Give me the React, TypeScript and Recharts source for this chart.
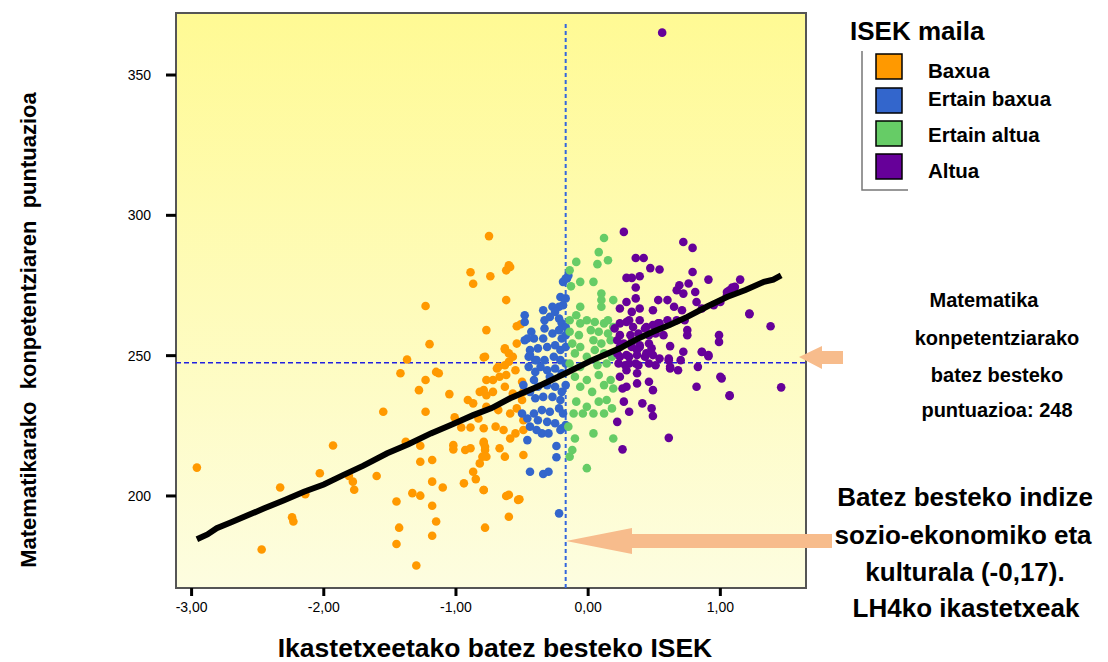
import React from 'react';
import { ScatterChart, Scatter, XAxis, YAxis, CartesianGrid, ReferenceLine, ReferenceArea } from 'recharts';

const xTicks = [-3, -2, -1, 0, 1];
const yTicks = [200, 250, 300, 350];
const meanIndex = -0.17;
const meanScore = 247.5;

const baxua: [number, number][] = [
  [-2.96,210.1],[-2.47,180.9],[-2.33,203.0],[-2.24,192.4],[-2.23,190.9],[-2.14,200.6],[-2.03,208.1],[-1.93,218.0],[-1.81,207.1],[-1.78,205.1],[-1.77,202.2],[-1.60,207.1],[-1.55,230.0],
  [-1.23,267.7],[-1.20,254.1],[-1.37,248.6],[-1.42,243.7],[-1.23,241.3],[-1.15,244.2],[-1.13,243.7],[-1.28,237.7],[-1.23,230.0],[-1.05,236.3],
  [-0.91,234.2],[-0.87,233.0],[-0.82,237.1],[-0.77,259.1],[-0.78,249.6],[-0.77,241.3],[-0.77,235.9],
  [-1.01,228.0],[-0.96,224.4],[-0.89,224.4],[-0.83,227.6],
  [-1.02,218.1],[-1.02,216.6],[-0.93,216.4],[-0.89,217.0],[-0.79,218.8],[-0.78,216.4],[-0.77,214.0],
  [-1.38,219.3],[-1.27,217.9],[-1.27,212.2],[-1.18,212.8],[-0.82,211.6],[-0.87,208.6],[-0.85,206.0],
  [-1.18,205.1],[-1.10,203.0],[-0.94,204.5],[-1.33,201.0],[-1.27,200.1],[-1.45,198.0],[-1.18,196.5],[-0.79,202.1],
  [-1.43,188.7],[-1.15,190.9],[-1.45,182.9],[-1.18,185.8],[-1.30,175.2],[-0.78,188.7],
  [-0.89,279.7],[-0.74,278.3],[-0.62,280.4],[-0.60,282.2],[-0.87,275.6],[-0.62,269.8],[-0.63,252.2],[-0.79,249.4],[-0.68,246.0],[-0.60,247.8],
  [-0.75,292.6],[-0.59,281.6],[-0.54,260.5],[-0.51,261.2],
  [-0.63,252.6],[-0.60,250.8],[-0.54,254.3],[-0.57,249.6],
  [-0.63,246.6],[-0.69,245.4],[-0.72,241.3],[-0.67,242.5],[-0.62,243.1],[-0.55,244.8],[-0.50,240.7],[-0.49,237.1],
  [-0.79,237.7],[-0.72,237.1],[-0.63,238.9],[-0.57,236.5],[-0.50,234.2],
  [-0.77,231.8],[-0.68,230.6],[-0.59,229.4],[-0.54,231.2],[-0.49,227.0],
  [-0.79,224.1],[-0.70,224.7],[-0.64,223.5],[-0.59,220.5],[-0.55,222.3],[-0.49,223.5],
  [-0.78,217.5],[-0.80,214.0],[-0.67,217.0],[-0.49,214.6],[-0.63,214.0],[-0.79,202.1],
  [-0.60,200.4],[-0.52,198.8],[-0.60,192.6],[-0.62,200.0],[-0.53,198.6],[-0.79,219.3],
];

const ertainBaxua: [number, number][] = [
  [-0.16,277.5],[-0.19,276.3],[-0.17,277.5],[-0.15,278.6],
  [-0.21,270.9],[-0.17,270.4],[-0.19,268.0],[-0.22,267.4],
  [-0.48,264.4],[-0.48,262.0],[-0.34,266.2],[-0.27,267.4],[-0.25,265.6],
  [-0.33,262.6],[-0.29,263.8],[-0.22,263.2],[-0.20,261.5],[-0.17,260.2],
  [-0.43,258.5],[-0.41,256.1],[-0.33,259.7],[-0.34,256.1],[-0.27,257.9],[-0.22,259.1],[-0.20,256.1],[-0.17,257.3],
  [-0.48,255.5],[-0.44,252.0],[-0.38,252.6],[-0.31,253.1],[-0.25,253.7],[-0.21,252.0],[-0.17,253.1],
  [-0.45,249.6],[-0.40,248.4],[-0.33,248.4],[-0.26,249.6],[-0.21,248.4],[-0.17,247.2],
  [-0.46,256.1],
  [-0.44,250.2],[-0.39,248.4],[-0.45,246.0],[-0.40,244.2],[-0.36,246.0],[-0.31,244.8],[-0.25,245.4],[-0.20,243.7],[-0.29,242.5],[-0.41,241.3],
  [-0.49,239.5],[-0.44,237.1],[-0.38,238.9],[-0.31,239.5],[-0.25,238.9],[-0.20,237.1],[-0.17,239.5],[-0.40,234.8],[-0.34,235.3],[-0.27,235.3],[-0.21,234.2],
  [-0.50,229.4],[-0.46,227.6],[-0.41,229.4],[-0.35,230.6],[-0.29,230.0],[-0.22,231.2],[-0.19,229.4],[-0.38,227.0],[-0.31,226.4],[-0.25,225.9],[-0.20,224.1],[-0.44,224.7],[-0.35,222.3],[-0.30,222.3],[-0.39,223.5],
  [-0.46,219.9],[-0.24,217.8],[-0.24,213.8],[-0.44,208.6],[-0.34,207.8],[-0.30,208.6],[-0.22,193.8],
  [-0.21,223.5],[-0.17,225.3],
];

const ertainAltua: [number, number][] = [
  [0.12,291.9],[0.08,286.9],[0.15,284.0],[0.07,282.6],[-0.09,283.4],
  [-0.14,280.4],[-0.06,276.3],[0.04,276.3],[-0.13,274.7],
  [0.10,272.1],[0.19,269.8],[0.10,269.8],[0.10,267.4],[-0.06,267.4],[-0.09,264.4],
  [-0.14,262.6],[-0.06,261.5],[-0.01,262.6],[0.05,262.0],[0.12,261.5],[0.15,262.6],[0.19,260.2],
  [-0.14,258.5],[-0.07,257.3],[0.02,259.1],[0.08,258.5],[0.15,257.9],[-0.12,254.3],[-0.06,253.1],[0.04,255.5],[0.10,254.3],[0.17,255.5],
  [-0.10,250.8],[-0.01,249.6],[0.05,252.0],[0.12,250.8],[0.18,249.6],[-0.14,247.2],[-0.06,246.0],[0.07,246.6],[0.14,247.2],
  [-0.10,242.5],[-0.01,241.3],[0.08,243.1],[0.17,241.3],[-0.06,238.9],[0.03,237.1],[0.12,239.5],[0.19,238.3],
  [-0.09,233.6],[-0.01,231.8],[0.08,233.6],[0.14,234.2],[0.18,231.2],[-0.11,229.4],[-0.04,229.4],[0.04,229.4],[0.12,229.4],
  [-0.15,224.7],[-0.10,220.5],[0.04,222.3],[0.19,220.5],[-0.12,216.4],[-0.14,214.0],[-0.01,209.9],
];

const altua: [number, number][] = [
  [0.56,365.1],[0.27,294.1],[0.72,290.5],[0.79,288.4],[0.36,284.8],[0.42,284.8],[0.47,281.2],[0.54,280.7],[0.79,279.8],
  [0.29,277.7],[0.33,277.7],[0.39,278.3],[0.91,277.1],[1.15,277.1],[0.36,274.3],
  [0.69,275.1],[0.76,275.7],[0.72,272.1],[0.81,272.7],[0.67,273.3],[1.09,274.3],[1.05,272.7],[1.07,273.3],[1.11,274.5],
  [0.29,269.1],[0.36,270.4],[0.24,266.8],[0.33,265.6],[0.39,266.8],
  [0.53,269.8],[0.60,269.8],[0.49,266.2],[0.65,267.4],[0.71,266.2],[0.82,269.1],[0.86,266.8],
  [0.95,268.0],[1.00,269.1],[1.05,271.5],[1.22,264.8],[1.38,260.5],
  [0.24,261.5],[0.31,262.6],[0.39,262.6],[0.44,260.2],[0.53,261.5],[0.60,262.6],[0.67,262.6],[0.73,262.6],[0.75,259.1],
  [0.24,257.3],[0.32,257.3],[0.38,257.9],[0.46,257.3],[0.51,257.9],[0.57,257.3],[0.75,257.3],
  [0.99,257.3],[0.99,254.9],
  [0.24,253.1],[0.33,253.1],[0.39,253.7],[0.48,252.6],[0.62,253.4],[0.72,251.4],
  [0.24,249.6],[0.31,249.6],[0.37,250.2],[0.43,249.6],[0.49,250.2],[0.61,249.0],[0.70,248.4],[0.86,251.4],[0.91,249.8],
  [0.28,246.6],[0.36,247.2],[0.51,246.6],[0.62,246.0],[0.68,244.8],[0.83,246.0],
  [0.24,242.5],[0.37,243.7],[0.46,240.7],[1.00,242.5],
  [0.29,238.9],[0.37,240.1],[0.49,237.7],[0.82,238.9],[1.07,235.9],[1.46,238.7],
  [0.20,259.7],[0.29,262.0],[0.34,260.2],[0.43,259.7],[0.49,260.9],[0.54,261.5],
  [0.22,255.5],[0.27,254.3],[0.33,254.9],[0.39,253.1],[0.46,254.3],[0.22,250.8],[0.29,250.2],[0.37,252.0],[0.44,250.8],
  [0.23,247.2],[0.31,247.2],[0.38,246.6],[0.46,247.2],[0.54,249.0],
  [0.29,244.8],[0.61,248.4],[0.62,245.4],[0.86,251.3],[0.91,250.2],[1.01,241.9],[1.07,235.6],[1.22,265.0],
  [0.26,238.3],[0.27,233.6],[0.41,233.0],[0.48,231.2],[0.31,230.0],[0.49,228.5],[0.22,226.4],[0.26,216.6],[0.61,220.7],
];

const fitX = [-2.96,-2.88,-2.81,-2.70,-2.58,-2.45,-2.30,-2.15,-2.00,-1.85,-1.70,-1.52,-1.36,-1.19,-1.03,-0.87,-0.73,-0.59,-0.38,-0.17,0.03,0.24,0.37,0.49,0.62,0.75,0.90,1.05,1.19,1.33,1.40,1.46];
const fitY = [184.6,186.3,188.5,190.6,193.0,195.6,198.5,201.5,204.1,207.5,210.8,215.2,218.4,222.3,225.5,228.8,231.3,234.8,239.0,243.7,248.4,252.6,255.9,258.5,261.0,263.8,267.5,270.9,273.4,276.3,277.1,278.6];

const legendNames = ['Baxua', 'Ertain baxua', 'Ertain altua', 'Altua'];
const legendColors = ['#ff9900', '#3366cc', '#66cc66', '#660099'];

const toPts = (a: [number, number][]) => a.map(([x, y]) => ({ x, y }));
const fitData = fitX.map((x, i) => ({ x, y: fitY[i] }));
const groups = [baxua, ertainBaxua, ertainAltua, altua];

const FONT = '"Liberation Sans", Arial, sans-serif';

const dot = (color: string) => (props: any) => (
  <circle cx={props.cx} cy={props.cy} r={4.3} fill={color} />
);

const fmt = (v: number) => v.toFixed(2).replace('.', ',');

export default function App() {
  const swatchY = [54, 88, 121, 154];
  const labelY = [73, 101, 137, 173];
  return (
    <div style={{ position: 'absolute', left: 0, top: 0, width: 1108, height: 662, background: '#fff', fontFamily: FONT }}>
      <ScatterChart width={1108} height={662} margin={{ top: 13, right: 302, bottom: 44, left: 116 }}>
        <defs>
          <linearGradient id="bg" x1="0" y1="0" x2="0" y2="1">
            <stop offset="0%" stopColor="#fffa94" />
            <stop offset="100%" stopColor="#fdfde0" />
          </linearGradient>
        </defs>
        <CartesianGrid horizontal={false} vertical={false} fill="url(#bg)" />
        <XAxis
          type="number"
          dataKey="x"
          domain={[-3.118, 1.648]}
          ticks={xTicks}
          tickFormatter={fmt}
          allowDataOverflow
          height={30}
          axisLine={false}
          tickLine={{ stroke: '#000', strokeWidth: 3 }}
          tickSize={8}
          tickMargin={6}
          tick={{ fill: '#000', fontSize: 14, fontFamily: FONT }}
        />
        <YAxis
          type="number"
          dataKey="y"
          domain={[167.2, 372.1]}
          ticks={yTicks}
          allowDataOverflow
          width={60}
          axisLine={false}
          tickLine={{ stroke: '#000', strokeWidth: 3 }}
          tickSize={10}
          tickMargin={15}
          tick={{ fill: '#000', fontSize: 14, fontFamily: FONT }}
        />
        <ReferenceArea x1={-3.118} x2={1.648} y1={167.2} y2={372.1} fill="none" stroke="#555" strokeWidth={2} ifOverflow="visible" />
        <ReferenceLine y={meanScore} stroke="#2020e0" strokeWidth={1.5} strokeDasharray="5 3" />
        <ReferenceLine segment={[{ x: meanIndex, y: 167.2 }, { x: meanIndex, y: 368.6 }]} stroke="#3366dd" strokeWidth={2} strokeDasharray="4 3" />
        {groups.map((g, i) => (
          <Scatter key={i} data={toPts(g)} fill={legendColors[i]} shape={dot(legendColors[i])} isAnimationActive={false} />
        ))}
        <Scatter data={fitData} line={{ stroke: '#000', strokeWidth: 6 }} lineType="joint" shape={() => <g />} isAnimationActive={false} />
      </ScatterChart>
      <svg width={1108} height={662} style={{ position: 'absolute', left: 0, top: 0, pointerEvents: 'none' }} fontFamily={FONT}>
        <text x={30} y={330} transform="rotate(-90 30 330)" textAnchor="middle" dominantBaseline="middle" fontSize={22} fontWeight="bold" style={{ whiteSpace: 'pre' }}>
          {'Matematikarako  konpetentziaren  puntuazioa'}
        </text>
        <text x={495} y={657} textAnchor="middle" fontSize={26.5} fontWeight="bold">Ikastetxeetako batez besteko ISEK</text>
        <text x={850} y={40} fontSize={26} fontWeight="bold">ISEK maila</text>
        <polyline points="862,51 862,190 908,190" fill="none" stroke="#777" strokeWidth={1.5} />
        {legendNames.map((n, i) => (
          <g key={n}>
            <rect x={876} y={swatchY[i]} width={26} height={25} fill={legendColors[i]} stroke="#000" strokeWidth={1.5} />
            <text x={928} y={labelY[i]} dominantBaseline="middle" fontSize={20.5} fontWeight="bold">{n}</text>
          </g>
        ))}
        <g fontSize={20} fontWeight="bold" textAnchor="middle">
          <text x={984} y={307}>Matematika</text>
          <text x={997} y={345}>konpetentziarako</text>
          <text x={997} y={382}>batez besteko</text>
          <text x={997} y={417}>puntuazioa: 248</text>
        </g>
        <g fontSize={26} fontWeight="bold" textAnchor="middle">
          <text x={965} y={506}>Batez besteko indize</text>
          <text x={963} y={544}>sozio-ekonomiko eta</text>
          <text x={965} y={581}>kulturala (-0,17).</text>
          <text x={966} y={617}>LH4ko ikastetxeak</text>
        </g>
        <polygon points="799,357 822,346 822,351 843,351 843,364 822,364 822,369" fill="#f7bc8c" />
        <polygon points="566,541 632,528 632,534 832,534 832,548 632,548 632,554" fill="#f7bc8c" />
      </svg>
    </div>
  );
}
